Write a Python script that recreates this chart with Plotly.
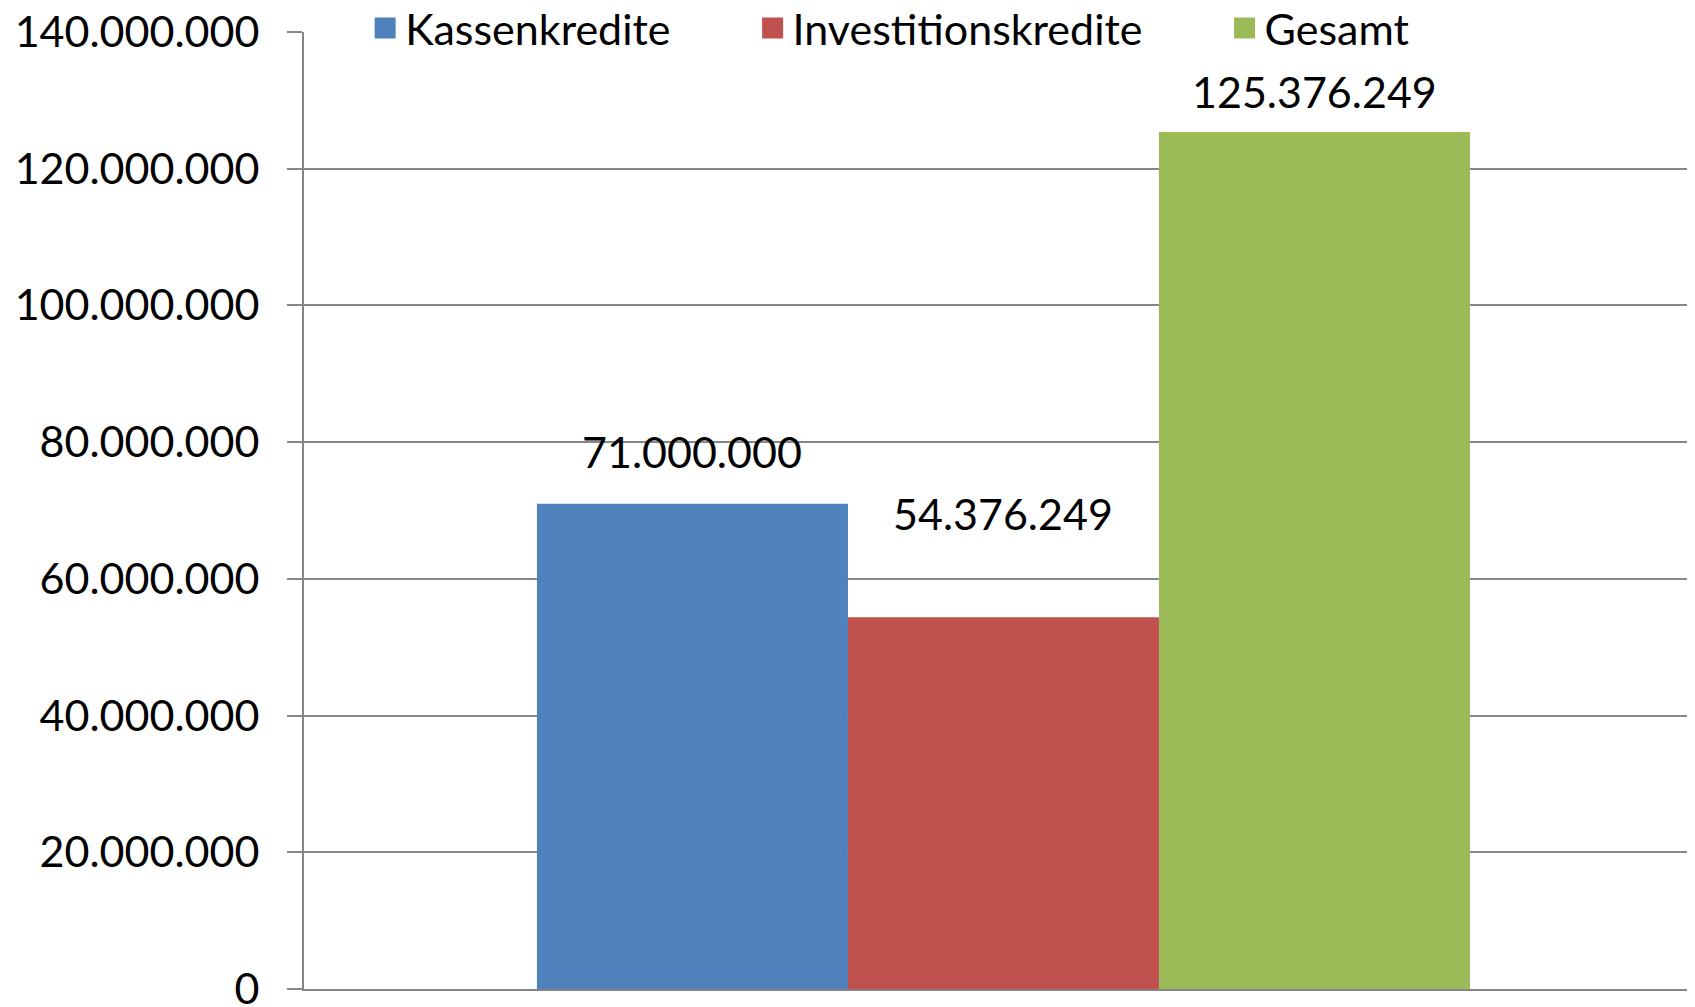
import plotly.graph_objects as go

# Daten
kategorien = ['Kassenkredite', 'Investitionskredite', 'Gesamt']
werte = [71000000, 54376249, 125376249]
farben = ['#4F81BD', '#C0504D', '#9BBB59']
y_ticks = [0, 20000000, 40000000, 60000000, 80000000, 100000000, 120000000, 140000000]

# Abstand der Beschriftung ueber dem Balken (px), wie im Original ungleich
label_abstand = [25, 76, 13]

fig = go.Figure()

# Balken
for name, wert, farbe in zip(kategorien, werte, farben):
    fig.add_trace(go.Bar(x=[name], y=[wert], name=name,
                         marker_color=farbe, marker_line_width=0,
                         width=1, showlegend=False))

# Legende mit groesseren Quadraten
for name, farbe in zip(kategorien, farben):
    fig.add_trace(go.Scatter(x=[None], y=[None], mode='markers', name=name + '\u00a0' * 7,
                             marker=dict(symbol='square', size=16, color=farbe,
                                         line=dict(color=farbe, width=5))))

# Datenbeschriftungen
for name, wert, abstand in zip(kategorien, werte, label_abstand):
    fig.add_annotation(x=name, y=wert, text=f'{wert:,}'.replace(',', '.'),
                       showarrow=False, yanchor='bottom', yshift=abstand,
                       font=dict(size=43, color='black'))

# die Seite hat 8px Rand, daher etwas kleiner
fig.update_layout(
    width=1687, height=999,
    margin=dict(l=296, r=0, t=24, b=18, autoexpand=False),
    plot_bgcolor='white', paper_bgcolor='white',
    font=dict(family='Lato', size=43, color='black'),
    separators=',.',
    barmode='overlay',
    legend=dict(orientation='h', xref='container', yref='container',
                x=0.2117, y=0.980, xanchor='left', yanchor='middle',
                bgcolor='rgba(0,0,0,0)', font=dict(size=43),
                itemsizing='trace'),
)

fig.update_xaxes(range=[-1.249, 3.2235], showticklabels=False, ticks='',
                 showgrid=False, showline=True, linecolor='#868686', linewidth=2)
fig.update_yaxes(range=[0, 140000000], tickvals=y_ticks, tickformat=',d',
                 showgrid=True, gridcolor='#868686', gridwidth=2,
                 zeroline=False, showline=True, linecolor='#868686', linewidth=2,
                 ticks='outside', ticklen=15, tickwidth=2, tickcolor='#868686',
                 ticklabelstandoff=19, ticklabeloverflow='allow')

fig.write_html('out.html')
